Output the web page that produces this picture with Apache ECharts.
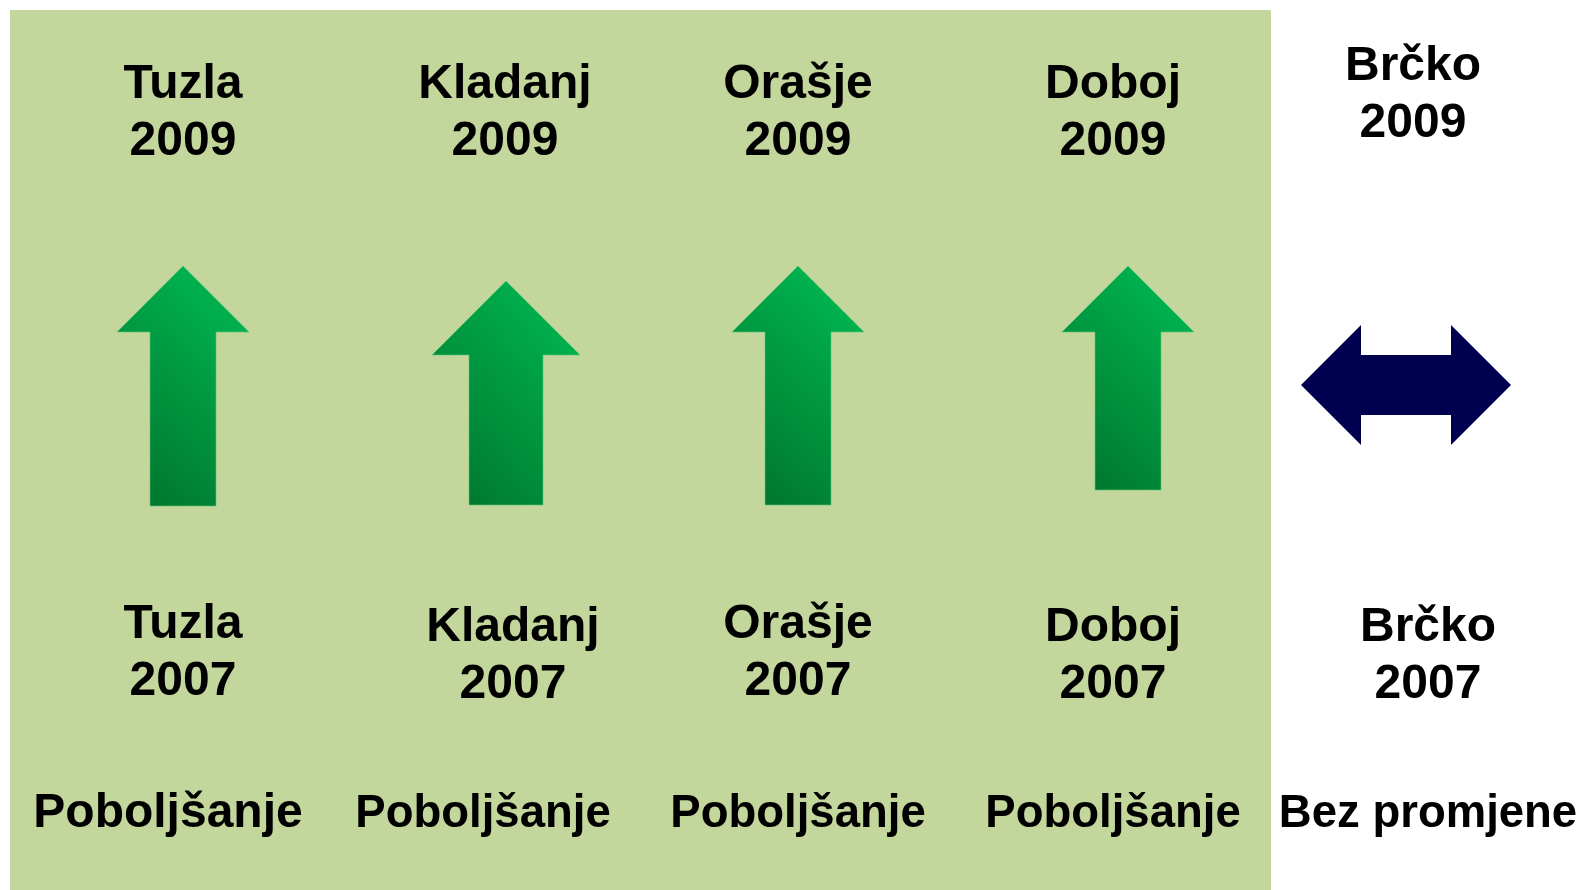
<!DOCTYPE html>
<html lang="bs">
<head>
<meta charset="UTF-8">
<title>Poboljšanje 2007 - 2009</title>
<script src="https://cdn.jsdelivr.net/npm/echarts@6/dist/echarts.min.js"></script>
<style>
    html, body { margin: 0; padding: 0; background: #ffffff; }
    #main { width: 1583px; height: 890px; }
</style>
</head>
<body>
<div id="main"></div>
<script>
// --- data ---
var cities = ['Tuzla', 'Kladanj', 'Orašje', 'Doboj', 'Brčko'];
var yearNew = '2009';
var yearOld = '2007';
var verdicts = ['Poboljšanje', 'Poboljšanje', 'Poboljšanje', 'Poboljšanje', 'Bez promjene'];
var trend = ['up', 'up', 'up', 'up', 'same'];

// arrow extents, in axis units
var arrowX = [183, 506, 798, 1128, 1406];
var arrowTop = [266, 281, 266, 266, 325];
var arrowNeck = [332, 355, 332, 332, 0];
var arrowBottom = [506, 505, 505, 490, 445];

// label anchors, in axis units
var newLabelX = [183, 505, 798, 1113, 1413];
var newLabelY = [113, 113, 113, 113, 95];
var oldLabelX = [183, 513, 798, 1113, 1428];
var oldLabelY = [653, 656, 653, 656, 656];
var verdictX = [168, 483, 798, 1113, 1428];
var verdictY = 814;
var verdictSize = [48, 45.5, 45.5, 45.5, 45.5];

var chart = echarts.init(document.getElementById('main'));

var arrowData = trend.map(function (t, i) {
    return [arrowX[i], arrowTop[i], arrowNeck[i], arrowBottom[i]];
});

function renderArrow(params, api) {
    var x = api.value(0), top = api.value(1), neck = api.value(2), bottom = api.value(3);
    var kind = trend[params.dataIndex];
    var pts;
    if (kind === 'up') {
        var hw = neck - top;           // head half width
        var sw = hw * 0.5;             // shaft half width
        pts = [[x, top], [x + hw, neck], [x + sw, neck], [x + sw, bottom],
               [x - sw, bottom], [x - sw, neck], [x - hw, neck]];
        return {
            type: 'polygon',
            shape: { points: pts.map(function (p) { return api.coord(p); }) },
            style: {
                fill: new echarts.graphic.LinearGradient(0, 0.8, 1, 0.2, [
                    { offset: 0, color: '#007a30' },
                    { offset: 1, color: '#00b450' }
                ]),
                stroke: 'rgba(90,200,120,0.6)',
                lineWidth: 1
            }
        };
    }
    // two-headed horizontal arrow
    var cy = (top + bottom) / 2;
    var hh = (bottom - top) / 2;
    var len = 105;
    var hl = 60;
    var sh = hh * 0.5;
    pts = [[x - len, cy], [x - len + hl, top], [x - len + hl, cy - sh], [x + len - hl, cy - sh],
           [x + len - hl, top], [x + len, cy], [x + len - hl, bottom], [x + len - hl, cy + sh],
           [x - len + hl, cy + sh], [x - len + hl, bottom]];
    return {
        type: 'polygon',
        shape: { points: pts.map(function (p) { return api.coord(p); }) },
        style: { fill: '#000050' }
    };
}

function labelSeries(xs, ys, texts, sizes) {
    return {
        type: 'custom',
        silent: true,
        renderItem: function (params, api) {
            var i = params.dataIndex;
            var p = api.coord([api.value(0), api.value(1)]);
            return {
                type: 'text',
                x: p[0],
                y: p[1],
                style: {
                    text: texts[i],
                    fill: '#000000',
                    fontFamily: '"Liberation Sans", Arial, sans-serif',
                    fontWeight: 'bold',
                    fontSize: sizes ? sizes[i] : 48,
                    lineHeight: 57,
                    align: 'center',
                    verticalAlign: 'middle'
                }
            };
        },
        data: xs.map(function (x, i) { return [x, ys[i]]; })
    };
}

var newTexts = cities.map(function (c) { return c + '\n' + yearNew; });
var oldTexts = cities.map(function (c) { return c + '\n' + yearOld; });

chart.setOption({
    animation: false,
    grid: { left: 0, right: 0, top: 0, bottom: 0 },
    xAxis: { type: 'value', min: 0, max: 1583, show: false },
    yAxis: { type: 'value', min: 0, max: 890, inverse: true, show: false },
    graphic: [{
        type: 'rect',
        z: -10,
        shape: { x: 10, y: 10, width: 1261, height: 880 },
        style: { fill: '#c3d69b' }
    }],
    series: [
        {
            type: 'custom',
            silent: true,
            renderItem: renderArrow,
            data: arrowData
        },
        labelSeries(newLabelX, newLabelY, newTexts),
        labelSeries(oldLabelX, oldLabelY, oldTexts),
        labelSeries(verdictX, verdicts.map(function () { return verdictY; }), verdicts, verdictSize)
    ]
});
</script>
</body>
</html>
